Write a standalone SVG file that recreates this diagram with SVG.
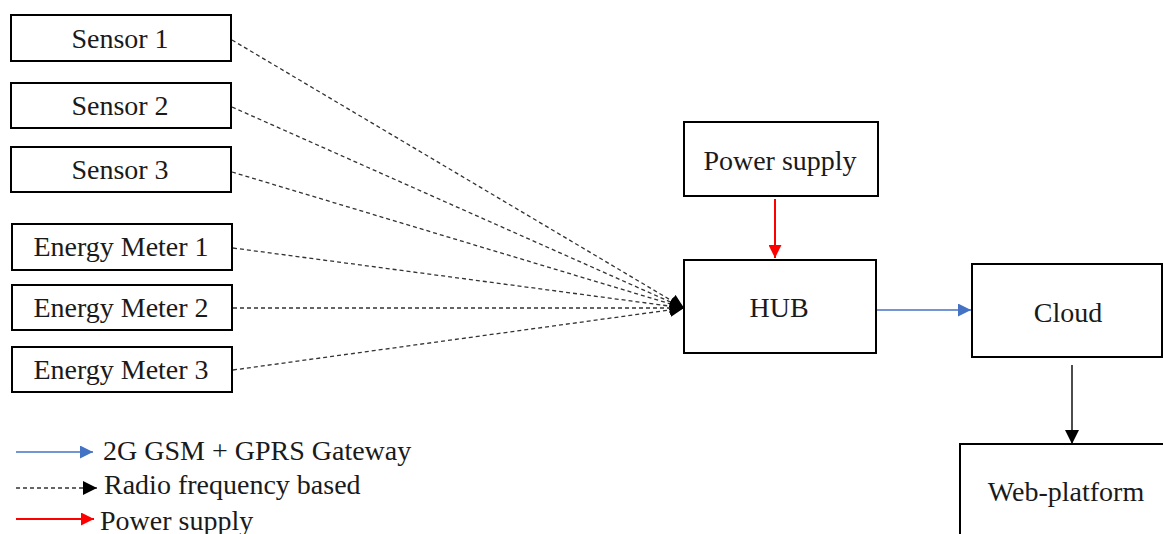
<svg xmlns="http://www.w3.org/2000/svg" width="1163" height="534" viewBox="0 0 1163 534">
  <style>
    .box { fill: #ffffff; stroke: #000000; stroke-width: 2; }
    .lbl { font-family: "Liberation Serif", "Times New Roman", serif; font-size: 28px; fill: #1a1a1a; text-anchor: middle; }
    .leg { font-family: "Liberation Serif", "Times New Roman", serif; font-size: 28px; fill: #1a1a1a; }
    .rf { stroke: #333333; stroke-width: 1.3; stroke-dasharray: 4 3; fill: none; }
    .gsm { stroke: #4472c4; stroke-width: 1.4; fill: none; }
    .pwr { stroke: #ff0000; stroke-width: 2; fill: none; }
    .blk { stroke: #000000; stroke-width: 1.4; fill: none; }
  </style>
  <defs>
    <marker id="hBlack" viewBox="0 0 10 10" refX="10" refY="5" markerWidth="14" markerHeight="14" markerUnits="userSpaceOnUse" orient="auto">
      <path d="M0,0 L10,5 L0,10 z" fill="#000000"/>
    </marker>
    <marker id="hBlue" viewBox="0 0 10 10" refX="10" refY="5" markerWidth="13" markerHeight="13" markerUnits="userSpaceOnUse" orient="auto">
      <path d="M0,0 L10,5 L0,10 z" fill="#4472c4"/>
    </marker>
    <marker id="hRed" viewBox="0 0 10 10" refX="10" refY="5" markerWidth="13" markerHeight="13" markerUnits="userSpaceOnUse" orient="auto">
      <path d="M0,0 L10,5 L0,10 z" fill="#ff0000"/>
    </marker>
  </defs>

  <!-- connectors -->
  <g id="connectors">
    <line class="rf" x1="232" y1="40" x2="684" y2="308" marker-end="url(#hBlack)"/>
    <line class="rf" x1="232" y1="107" x2="684" y2="308" marker-end="url(#hBlack)"/>
    <line class="rf" x1="232" y1="172" x2="684" y2="308" marker-end="url(#hBlack)"/>
    <line class="rf" x1="233" y1="248" x2="684" y2="308" marker-end="url(#hBlack)"/>
    <line class="rf" x1="233" y1="308" x2="684" y2="308" marker-end="url(#hBlack)"/>
    <line class="rf" x1="233" y1="370" x2="684" y2="308" marker-end="url(#hBlack)"/>
    <line class="pwr" x1="775" y1="199" x2="775" y2="258" marker-end="url(#hRed)"/>
    <line class="gsm" x1="877" y1="310" x2="971" y2="310" marker-end="url(#hBlue)"/>
    <line class="blk" x1="1072" y1="365" x2="1072" y2="444" marker-end="url(#hBlack)"/>
  </g>

  <!-- nodes -->
  <g id="sensor1"><rect class="box" x="11" y="15" width="220" height="46"/><text class="lbl" x="120" y="48">Sensor 1</text></g>
  <g id="sensor2"><rect class="box" x="11" y="83" width="220" height="45"/><text class="lbl" x="120" y="115">Sensor 2</text></g>
  <g id="sensor3"><rect class="box" x="11" y="147" width="220" height="45"/><text class="lbl" x="120" y="179">Sensor 3</text></g>
  <g id="meter1"><rect class="box" x="12" y="224" width="220" height="46"/><text class="lbl" x="121" y="256">Energy Meter 1</text></g>
  <g id="meter2"><rect class="box" x="12" y="285" width="220" height="45"/><text class="lbl" x="121" y="317">Energy Meter 2</text></g>
  <g id="meter3"><rect class="box" x="12" y="347" width="220" height="45"/><text class="lbl" x="121" y="379">Energy Meter 3</text></g>
  <g id="power"><rect class="box" x="684" y="122" width="194" height="74"/><text class="lbl" x="780" y="170">Power supply</text></g>
  <g id="hub"><rect class="box" x="684" y="260" width="192" height="93"/><text class="lbl" x="779" y="317">HUB</text></g>
  <g id="cloud"><rect class="box" x="972" y="264" width="190" height="93"/><text class="lbl" x="1068" y="322">Cloud</text></g>
  <g id="web"><rect class="box" x="960" y="444" width="220" height="120"/><text class="lbl" x="1066" y="501">Web-platform</text></g>

  <!-- legend -->
  <g id="legend">
    <line class="gsm" x1="16" y1="452" x2="93" y2="452" marker-end="url(#hBlue)"/>
    <text class="leg" x="103" y="460">2G GSM + GPRS Gateway</text>
    <line class="rf" x1="16" y1="488" x2="97" y2="488" marker-end="url(#hBlack)"/>
    <text class="leg" x="104" y="494">Radio frequency based</text>
    <line class="pwr" x1="16" y1="519" x2="94" y2="519" marker-end="url(#hRed)"/>
    <text class="leg" x="100" y="530">Power supply</text>
  </g>
</svg>
